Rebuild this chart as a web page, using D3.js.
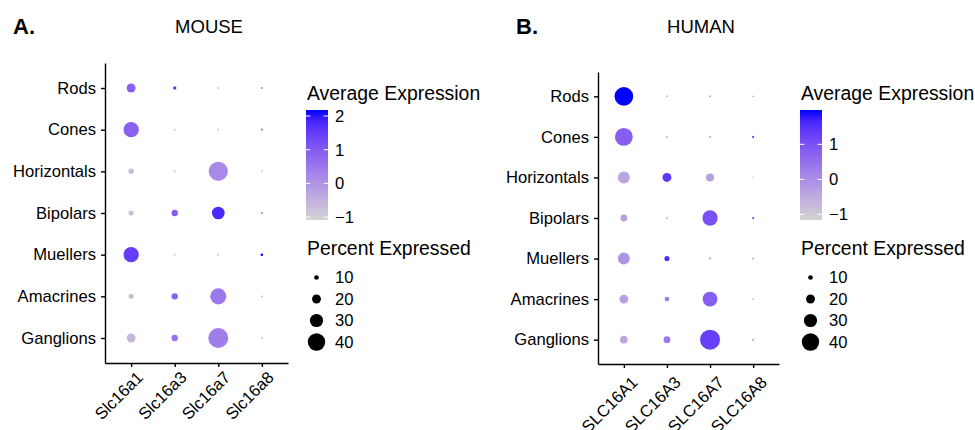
<!DOCTYPE html>
<meta charset="utf-8">
<style>
    body {
        margin: 0;
        background: #fff;
    }

    text {
        font-family: "Liberation Sans", Arial, Helvetica, sans-serif;
        fill: #000;
    }

    .axis path, .axis line {
        stroke: #000;
        stroke-width: 1.4;
    }

    .axis text {
        font-size: 16.6px;
    }

    .legend-title {
        font-size: 19.4px;
    }

    .legend-label {
        font-size: 16.6px;
    }

    .panel-title {
        font-size: 18.5px;
    }

    .panel-tag {
        font-size: 22px;
        font-weight: bold;
    }
</style>
<body>
<script src="https://cdn.jsdelivr.net/npm/d3@7"></script>
<script>
    var cellTypes = ["Rods", "Cones", "Horizontals", "Bipolars", "Muellers", "Amacrines", "Ganglions"];

    var mouseGenes = ["Slc16a1", "Slc16a3", "Slc16a7", "Slc16a8"];
    var humanGenes = ["SLC16A1", "SLC16A3", "SLC16A7", "SLC16A8"];

    // rows follow cellTypes, columns follow the gene lists
    var mouseAvgExp = [
        [0.9, 1.5, -0.8, 0.3],
        [0.9, -0.9, -0.9, 0.5],
        [-0.7, -0.9, 0.2, -0.8],
        [-0.8, 1.0, 1.8, 0.3],
        [1.5, -0.9, -0.8, 2.18],
        [-0.7, 0.9, 0.5, -0.3],
        [-0.6, 0.6, 0.4, -0.2]
    ];
    var mousePctExp = [
        [20, 7, 4, 4],
        [35, 4, 4, 4],
        [12, 4, 44, 3],
        [11, 14, 29, 4],
        [35, 3, 4, 5],
        [11, 14, 37, 3],
        [20, 14, 46, 3]
    ];

    var humanAvgExp = [
        [1.98, -0.8, -0.5, -0.5],
        [0.8, -0.7, -0.6, 1.4],
        [-0.4, 1.4, -0.3, -1.0],
        [-0.3, -0.7, 1.0, 1.4],
        [-0.1, 1.6, -0.6, 0.3],
        [-0.3, 0.3, 0.8, -0.5],
        [-0.4, 0.4, 1.3, 0.4]
    ];
    var humanPctExp = [
        [43, 4, 4, 3],
        [41, 4, 4, 4],
        [27, 20, 18, 3],
        [15, 4, 35, 4],
        [27, 11, 5, 3],
        [20, 10, 34, 3],
        [17, 15, 46, 3]
    ];

    var mouseColorRange = [-1.09, 2.18];
    var humanColorRange = [-1.16, 1.98];
    var mouseColorTicks = [-1, 0, 1, 2];
    var humanColorTicks = [-1, 0, 1];
    var sizeTicks = [10, 20, 30, 40];

    var width = 975, height = 430;

    var svg = d3.select("body").append("svg")
            .attr("width", width)
            .attr("height", height);

    var defs = svg.append("defs");

    // radius grows linearly with percent (Seurat uses scale_radius)
    var radius = d3.scaleLinear()
            .domain([0, 40])
            .range([0.2, 8.7]);

    drawPanel({
        id: "mouse",
        tag: "A.", tagX: 13,
        title: "MOUSE", titleX: 209,
        genes: mouseGenes, avg: mouseAvgExp, pct: mousePctExp,
        colorRange: mouseColorRange, colorTicks: mouseColorTicks,
        left: 105, right: 288, top: 63, bottom: 363,
        labelShift: [4, 7],
        legendX: 306
    });

    drawPanel({
        id: "human",
        tag: "B.", tagX: 516,
        title: "HUMAN", titleX: 701,
        genes: humanGenes, avg: humanAvgExp, pct: humanPctExp,
        colorRange: humanColorRange, colorTicks: humanColorTicks,
        left: 598, right: 779, top: 72, bottom: 364,
        labelShift: [6, 11],
        legendX: 800
    });

    function drawPanel(cfg) {
        var g = svg.append("g").attr("class", "panel " + cfg.id);

        g.append("text")
                .attr("class", "panel-tag")
                .attr("x", cfg.tagX)
                .attr("y", 34)
                .text(cfg.tag);

        g.append("text")
                .attr("class", "panel-title")
                .attr("x", cfg.titleX)
                .attr("y", 33)
                .attr("text-anchor", "middle")
                .text(cfg.title);

        var x = d3.scalePoint()
                .domain(cfg.genes)
                .range([cfg.left, cfg.right])
                .padding(0.6);
        var y = d3.scalePoint()
                .domain(cellTypes)
                .range([cfg.top, cfg.bottom])
                .padding(0.6);

        var color = d3.scaleLinear()
                .domain(cfg.colorRange)
                .range(["lightgrey", "blue"])
                .interpolate(d3.interpolateLab);

        var points = [];
        cellTypes.forEach(function (c, i) {
            cfg.genes.forEach(function (gene, j) {
                points.push({cell: c, gene: gene, avg: cfg.avg[i][j], pct: cfg.pct[i][j]});
            });
        });

        g.append("g")
                .attr("class", "dots")
            .selectAll("circle")
            .data(points)
            .join("circle")
                .attr("cx", function (d) { return x(d.gene); })
                .attr("cy", function (d) { return y(d.cell); })
                .attr("r", function (d) { return radius(d.pct); })
                .attr("fill", function (d) { return color(d.avg); });

        var yAxis = g.append("g")
                .attr("class", "y axis")
                .attr("transform", "translate(" + cfg.left + ",0)")
                .call(d3.axisLeft(y).tickSize(4).tickSizeOuter(0).tickPadding(5));
        yAxis.attr("font-size", null).attr("font-family", null);

        var xAxis = g.append("g")
                .attr("class", "x axis")
                .attr("transform", "translate(0," + cfg.bottom + ")")
                .call(d3.axisBottom(x).tickSize(4).tickSizeOuter(0));
        xAxis.attr("font-size", null).attr("font-family", null);
        xAxis.selectAll(".tick text")
                .attr("y", null)
                .attr("dy", "0.72em")
                .attr("text-anchor", "end")
                .attr("transform", "translate(" + cfg.labelShift[0] + "," + cfg.labelShift[1] + ") rotate(-45)");

        // colour legend
        var lx = cfg.legendX;
        var barW = 22, barTop = 110, barBottom = 220;
        var legend = g.append("g").attr("class", "legend");

        legend.append("text")
                .attr("class", "legend-title")
                .attr("x", lx + 1)
                .attr("y", 100)
                .text("Average Expression");

        var grad = defs.append("linearGradient")
                .attr("id", "grad-" + cfg.id)
                .attr("x1", 0).attr("y1", 1)
                .attr("x2", 0).attr("y2", 0);
        d3.range(0, 1.0001, 0.1).forEach(function (t) {
            grad.append("stop")
                    .attr("offset", t)
                    .attr("stop-color", color(cfg.colorRange[0] + t * (cfg.colorRange[1] - cfg.colorRange[0])));
        });

        legend.append("rect")
                .attr("x", lx)
                .attr("y", barTop)
                .attr("width", barW)
                .attr("height", barBottom - barTop)
                .attr("fill", "url(#grad-" + cfg.id + ")");

        var barScale = d3.scaleLinear()
                .domain(cfg.colorRange)
                .range([barBottom, barTop]);
        var fmt = d3.format("d");

        var tick = legend.selectAll("g.ctick")
            .data(cfg.colorTicks)
            .join("g")
                .attr("class", "ctick")
                .attr("transform", function (d) { return "translate(0," + barScale(d) + ")"; });
        tick.append("line")
                .attr("x1", lx).attr("x2", lx + 4.4)
                .attr("stroke", "#fff").attr("stroke-width", 1);
        tick.append("line")
                .attr("x1", lx + barW - 4.4).attr("x2", lx + barW)
                .attr("stroke", "#fff").attr("stroke-width", 1);
        tick.append("text")
                .attr("class", "legend-label")
                .attr("x", lx + barW + 7)
                .attr("dy", "0.36em")
                .text(function (d) { return fmt(d); });

        // size legend
        legend.append("text")
                .attr("class", "legend-title")
                .attr("x", lx + 1)
                .attr("y", 255)
                .text("Percent Expressed");

        var sizeY = d3.scalePoint()
                .domain(sizeTicks)
                .range([277.5, 342]);

        var item = legend.selectAll("g.sitem")
            .data(sizeTicks)
            .join("g")
                .attr("class", "sitem")
                .attr("transform", function (d) { return "translate(0," + sizeY(d) + ")"; });
        item.append("circle")
                .attr("cx", lx + 10.5)
                .attr("r", function (d) { return radius(d); })
                .attr("fill", "#000");
        item.append("text")
                .attr("class", "legend-label")
                .attr("x", lx + barW + 7)
                .attr("dy", "0.36em")
                .text(function (d) { return d; });
    }
</script>
